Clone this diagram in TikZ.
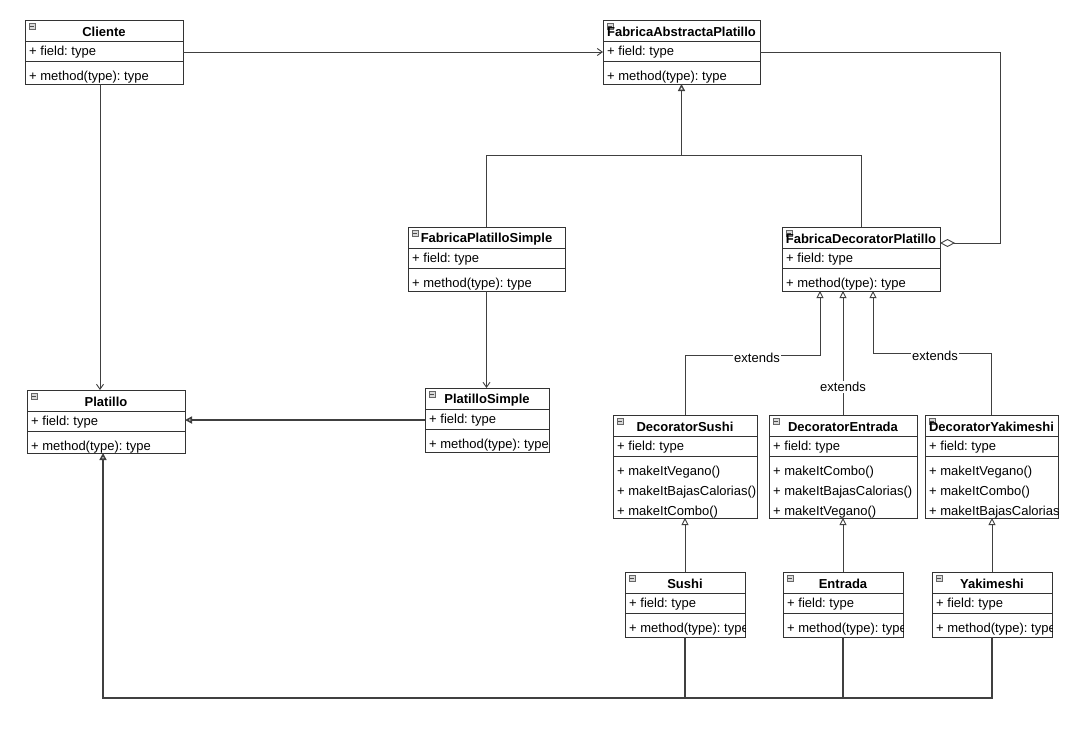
\documentclass[tikz,border=0pt]{standalone}
\usepackage{fontspec}
\setmainfont{Liberation Sans}
\usetikzlibrary{arrows.meta,calc}
\frenchspacing
\tikzset{
 umlbox/.style={draw=black!80, line width=0.9pt, fill=white, inner sep=0pt, outer sep=0pt, anchor=north west},
 txt/.style={anchor=west, inner sep=0pt, font=\fontsize{13}{15}\selectfont},
 ttl/.style={inner sep=0pt, font=\fontsize{13}{15}\selectfont\bfseries},
 conn/.style={draw=black!75, line width=0.9pt},
 assoc/.style={conn, -{Straight Barb[length=5pt,width=7pt]}},
 gen/.style={conn, -{Triangle[open,length=7pt,width=7pt]}},
 aggr/.style={conn, -{Diamond[open,length=15pt,width=8pt]}},
 lbl/.style={fill=white, inner sep=1pt, font=\fontsize{13}{15}\selectfont},
}
\newcommand\umlclass[7]{%
 \node[umlbox, minimum width={(#4-#2)*1pt}, minimum height={(#5-#3)*1pt}] (#1) at (#2,#3) {};
 \begin{scope}
 \clip (#2,#3) rectangle (#4,#5);
 \draw[black!80, line width=0.9pt] (#2,#3+21) -- (#4,#3+21) (#2,#3+41) -- (#4,#3+41);
 \draw[black!60, fill=black!15, line width=0.5pt] (#2+4,#3+3) rectangle (#2+10,#3+9);
 \draw[black!70, line width=0.6pt] (#2+5,#3+6) -- (#2+9,#3+6);
 \node[ttl] (#1-title) at ({(#2+#4)/2},#3+12) {#6};
 \node[txt] (#1-field) at (#2+4,#3+32) {+ field: type};
 \foreach \m [count=\i] in {#7} {\node[txt] (#1-m\i) at (#2+4,{#3+37.5+20*\i}) {\m};}
 \end{scope}}
\begin{document}
\begin{tikzpicture}[x=1pt,y=-1pt]
\path[use as bounding box, fill=white] (0,0) rectangle (1087,737);
\umlclass{cliente}{25}{20}{183}{84}{Cliente}{{+ method(type): type}}
\umlclass{fababs}{603}{20}{760}{84}{FabricaAbstractaPlatillo}{{+ method(type): type}}
\umlclass{fps}{408}{227}{565}{291}{FabricaPlatilloSimple}{{+ method(type): type}}
\umlclass{fdp}{782}{227}{940}{291}{FabricaDecoratorPlatillo}{{+ method(type): type}}
\umlclass{platillo}{27}{390}{185}{453}{Platillo}{{+ method(type): type}}
\umlclass{ps}{425}{388}{549}{452}{PlatilloSimple}{{+ method(type): type}}
\umlclass{ds}{613}{415}{757}{518}{DecoratorSushi}{{+ makeItVegano()},{+ makeItBajasCalorias()},{+ makeItCombo()}}
\umlclass{de}{769}{415}{917}{518}{DecoratorEntrada}{{+ makeItCombo()},{+ makeItBajasCalorias()},{+ makeItVegano()}}
\umlclass{dy}{925}{415}{1058}{518}{DecoratorYakimeshi}{{+ makeItVegano()},{+ makeItCombo()},{+ makeItBajasCalorias()}}
\umlclass{sushi}{625}{572}{745}{637}{Sushi}{{+ method(type): type}}
\umlclass{entrada}{783}{572}{903}{637}{Entrada}{{+ method(type): type}}
\umlclass{yakimeshi}{932}{572}{1052}{637}{Yakimeshi}{{+ method(type): type}}
% associations
\coordinate (cx) at (100,0);
\draw[assoc] (cliente.east) -- (fababs.west);
\draw[assoc] (cliente.south -| cx) -- (platillo.north -| cx);
\draw[assoc] (fps.south) -- (fps.south |- ps.north);
% factory generalization
\coordinate (j1) at (681.5,155);
\draw[conn] (fps.north) |- (j1);
\draw[conn] (fdp.north) |- (j1);
\draw[gen, line width=1.3pt] (j1) -- (fababs.south);
% aggregation
\coordinate (ac) at (1000,150);
\draw[aggr] (fababs.east) -| (ac) |- ($(fdp.north east)+(0,16)$);
% PlatilloSimple -> Platillo
\draw[gen, line width=1.6pt] (ps.west) -- (ps.west -| platillo.east);
% extends
\coordinate (k1) at (820,355);
\draw[gen] (ds.north) |- (k1) -- (fdp.south -| k1);
\node[lbl] (l1) at (757,358) {extends};
\draw[gen] (de.north) -- (fdp.south -| de.north);
\node[lbl] (l2) at (843,387) {extends};
\coordinate (k3) at (873,353);
\draw[gen] (dy.north) |- (k3) -- (fdp.south -| k3);
\node[lbl] (l3) at (935,356) {extends};
% concrete -> decorators
\draw[gen] (sushi.north) -- (ds.south);
\draw[gen] (entrada.north) -- (de.south);
\draw[gen] (yakimeshi.north) -- (yakimeshi.north |- dy.south);
% concrete -> Platillo
\coordinate (b) at (103,698);
\draw[gen, line width=1.6pt] (sushi.south) |- (b) -- (platillo.south -| b);
\draw[conn, line width=1.3pt] (entrada.south) |- (sushi.south |- b);
\draw[conn, line width=1.3pt] (yakimeshi.south) |- (entrada.south |- b);
\end{tikzpicture}
\end{document}
